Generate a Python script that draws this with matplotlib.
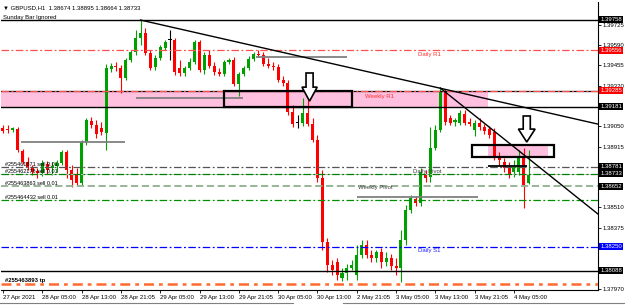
import matplotlib
matplotlib.use('Agg')
import matplotlib.pyplot as plt
from matplotlib.patches import Rectangle, Polygon
from matplotlib.lines import Line2D
import matplotlib.transforms as mtransforms

plt.rcParams['font.family'] = ['Liberation Sans', 'DejaVu Sans']

# ---------------- data (GBPUSD H1) ----------------
opens = [1.39038, 1.39031, 1.39025, 1.39031, 1.38885, 1.38812, 1.38778, 1.38752, 1.38739, 1.38798,
         1.38772, 1.38785, 1.38805, 1.38878, 1.38759, 1.38725, 1.38672, 1.38945, 1.39084, 1.39058,
         1.39038, 1.39005, 1.39430, 1.39450, 1.39437, 1.39370, 1.39490, 1.39543, 1.39636, 1.39670,
         1.39537, 1.39443, 1.39503, 1.39570, 1.39623, 1.39623, 1.39437, 1.39404, 1.39437, 1.39477,
         1.39610, 1.39424, 1.39523, 1.39450, 1.39410, 1.39397, 1.39477, 1.39490, 1.39330, 1.39397,
         1.39437, 1.39497, 1.39530, 1.39523, 1.39463, 1.39450, 1.39443, 1.39357, 1.39337, 1.39144,
         1.39071, 1.39071, 1.39138, 1.39064, 1.38958, 1.38705, 1.38280, 1.38127, 1.38147, 1.38040,
         1.38074, 1.38107, 1.38060, 1.38193, 1.38260, 1.38193, 1.38173, 1.38213, 1.38147, 1.38173,
         1.38120, 1.38107, 1.38293, 1.38493, 1.38566, 1.38539, 1.38732, 1.38712, 1.38905, 1.39025,
         1.39277, 1.39104, 1.39078, 1.39071, 1.39131, 1.39078, 1.39025, 1.39071, 1.39044, 1.39031,
         1.39011, 1.38845, 1.38812, 1.38772, 1.38745, 1.38745, 1.38845, 1.38674]
highs = [1.39058, 1.39058, 1.39044, 1.39044, 1.38898, 1.38845, 1.38792, 1.38772, 1.38825, 1.38818,
         1.38812, 1.38825, 1.38892, 1.38892, 1.38792, 1.38772, 1.38958, 1.39104, 1.39111, 1.39091,
         1.39078, 1.39463, 1.39470, 1.39477, 1.39457, 1.39503, 1.39557, 1.39690, 1.39756, 1.39703,
         1.39557, 1.39523, 1.39590, 1.39623, 1.39690, 1.39636, 1.39490, 1.39450, 1.39503, 1.39623,
         1.39623, 1.39543, 1.39557, 1.39477, 1.39437, 1.39490, 1.39503, 1.39510, 1.39410, 1.39450,
         1.39517, 1.39543, 1.39557, 1.39543, 1.39503, 1.39477, 1.39463, 1.39384, 1.39357, 1.39191,
         1.39124, 1.39237, 1.39224, 1.39104, 1.38991, 1.38759, 1.38306, 1.38160, 1.38173, 1.38107,
         1.38133, 1.38160, 1.38260, 1.38293, 1.38293, 1.38227, 1.38227, 1.38240, 1.38213, 1.38200,
         1.38173, 1.38360, 1.38526, 1.38592, 1.38585, 1.38772, 1.38759, 1.39044, 1.39058, 1.39304,
         1.39297, 1.39124, 1.39104, 1.39158, 1.39158, 1.39104, 1.39091, 1.39104, 1.39064, 1.39051,
         1.39038, 1.38878, 1.38838, 1.38812, 1.38825, 1.38892, 1.38905, 1.38895]
lows = [1.39005, 1.39005, 1.39011, 1.38878, 1.38798, 1.38759, 1.38725, 1.38705, 1.38719, 1.38732,
        1.38725, 1.38745, 1.38792, 1.38705, 1.38645, 1.38659, 1.38659, 1.38925, 1.39038, 1.38971,
        1.38991, 1.38892, 1.39410, 1.39417, 1.39271, 1.39357, 1.39477, 1.39523, 1.39590, 1.39523,
        1.39424, 1.39424, 1.39490, 1.39557, 1.39490, 1.39390, 1.39384, 1.39384, 1.39424, 1.39463,
        1.39410, 1.39397, 1.39437, 1.39390, 1.39384, 1.39384, 1.39463, 1.39317, 1.39251, 1.39384,
        1.39424, 1.39483, 1.39510, 1.39450, 1.39437, 1.39424, 1.39344, 1.39317, 1.39124, 1.39044,
        1.39038, 1.39051, 1.39051, 1.38945, 1.38679, 1.38227, 1.38080, 1.38060, 1.38027, 1.38020,
        1.38027, 1.38094, 1.38027, 1.38173, 1.38173, 1.38147, 1.38147, 1.38107, 1.38120, 1.38094,
        1.38060, 1.38014, 1.38260, 1.38473, 1.38519, 1.38519, 1.38679, 1.38679, 1.38892, 1.39011,
        1.39058, 1.39058, 1.39051, 1.39058, 1.39058, 1.39051, 1.38985, 1.39025, 1.38998, 1.38971,
        1.38825, 1.38792, 1.38745, 1.38705, 1.38712, 1.38725, 1.38506, 1.38664]
closes = [1.39018, 1.39025, 1.39038, 1.38892, 1.38812, 1.38778, 1.38745, 1.38739, 1.38805, 1.38759,
          1.38785, 1.38805, 1.38878, 1.38759, 1.38692, 1.38672, 1.38945, 1.39091, 1.39058, 1.38998,
          1.39011, 1.39437, 1.39450, 1.39443, 1.39370, 1.39490, 1.39543, 1.39636, 1.39670, 1.39537,
          1.39437, 1.39503, 1.39576, 1.39610, 1.39623, 1.39410, 1.39404, 1.39437, 1.39477, 1.39610,
          1.39424, 1.39523, 1.39450, 1.39410, 1.39397, 1.39477, 1.39490, 1.39330, 1.39397, 1.39437,
          1.39497, 1.39530, 1.39523, 1.39463, 1.39450, 1.39443, 1.39357, 1.39337, 1.39144, 1.39064,
          1.39071, 1.39138, 1.39064, 1.38958, 1.38705, 1.38280, 1.38127, 1.38094, 1.38060, 1.38074,
          1.38107, 1.38127, 1.38193, 1.38260, 1.38193, 1.38173, 1.38213, 1.38147, 1.38173, 1.38120,
          1.38107, 1.38293, 1.38493, 1.38572, 1.38539, 1.38745, 1.38705, 1.38905, 1.39025, 1.39277,
          1.39078, 1.39071, 1.39091, 1.39138, 1.39071, 1.39064, 1.39071, 1.39044, 1.39018, 1.38991,
          1.38838, 1.38825, 1.38772, 1.38725, 1.38778, 1.38845, 1.38659, 1.38733]

x_tick_pos = [0, 8, 16, 24, 32, 40, 48, 56, 64, 72, 80, 88, 96, 104]
x_tick_labels = ['27 Apr 2021', '28 Apr 05:00', '28 Apr 13:00', '28 Apr 21:05', '29 Apr 05:00',
                 '29 Apr 13:00', '29 Apr 21:05', '30 Apr 05:00', '30 Apr 13:00', '2 May 21:05',
                 '3 May 05:00', '3 May 13:00', '3 May 21:05', '4 May 05:00']
y_ticks = [1.39725, 1.39590, 1.39455, 1.39320, 1.39050, 1.38915, 1.38510, 1.38375, 1.37970]

# horizontal levels: (price, color, style, width)
levels = [(1.39758, '#000000', '-', 1.0),
          (1.39556, '#ff5050', (0, (6, 2, 1.5, 2)), 0.9),
          (1.39287, '#000000', '-', 0.9),
          (1.39285, '#ff5050', (0, (6, 2, 1.5, 2)), 0.9),
          (1.39181, '#000000', '-', 1.0),
          (1.38781, '#555555', (0, (6, 2, 1.5, 2)), 0.9),
          (1.38733, '#c0c0c0', '-', 0.7),
          (1.38733, '#008000', (0, (6, 2, 1.5, 2)), 0.9),
          (1.38652, '#90b090', (0, (4, 2)), 1.3),
          (1.38559, '#009000', (0, (6, 2, 1.5, 2)), 0.9),
          (1.38250, '#0000ff', (0, (6, 2, 1.5, 2)), 0.9),
          (1.38088, '#000000', '-', 1.0),
          (1.37998, '#ff6a30', (0, (4, 2, 1.5, 2)), 1.8)]

# price label boxes on the right axis: (price, background)
price_boxes = [(1.39758, '#000000'), (1.39556, '#ff0000'), (1.39285, '#ff0000'), (1.39181, '#000000'),
               (1.38781, '#000000'), (1.38733, '#000000'), (1.38652, '#000000'), (1.38250, '#0000ff'),
               (1.38088, '#000000')]

# short solid segments: (price, start bar, end bar, color)
segments = [(1.38945, 3.6, 24.9, '#808080'), (1.39237, 27.0, 48.9, '#808080'),
            (1.39510, 51.4, 70.0, '#808080'), (1.38579, 72.0, 96.7, '#808080'),
            (1.38785, 98.7, 106.7, '#000000')]

# trend lines: ((bar, price), (bar, price))
trendlines = [((28.0, 1.39756), (121.1, 1.39064)), ((89.0, 1.39304), (121.1, 1.38466))]

# zones
pink_zones = [(-1.0, 98.7, 1.39181, 1.39287), (98.7, 110.9, 1.38845, 1.38925)]
boxes = [(45.05, 71.1, 1.39178, 1.39287), (95.5, 112.2, 1.38845, 1.38925)]

# down arrows: (centre bar, top price, shaft bottom price, tip price, shaft half width, head half width)
arrows = [(62.4, 1.39404, 1.39310, 1.39217, 0.72, 1.55), (106.6, 1.39118, 1.39031, 1.38945, 0.72, 1.7)]

# chart labels: (bar, price, text, color)
chart_texts = [(84.5, 1.39525, 'Daily R1', '#ff3030'), (73.7, 1.39250, 'Weekly R1', '#ff3030'),
               (83.5, 1.38750, 'Daily Pivot', '#404040'), (72.3, 1.38640, 'Weekly Pivot', '#404040'),
               (84.5, 1.38222, 'Daily S1', '#2020ff')]
order_texts = [(0.5, 1.38781, '#255461871 sell 0.01'), (0.5, 1.38733, '#255462178 sell 0.01'),
               (0.5, 1.38652, '#255463863 sell 0.01'), (0.5, 1.38559, '#255464432 sell 0.01')]
tp_text = (0.5, 1.38010, '#255463893 tp')

# ---------------- figure ----------------
W, H = 625, 306
fig = plt.figure(figsize=(W / 100, H / 100), dpi=100)
ax = fig.add_axes([0.5 / W, (H - 290) / H, 597.5 / W, 288 / H])
ax.set_xlim(-0.5, 121.1)
ax.set_ylim(1.37961, 1.39876)

for z in pink_zones:
    ax.add_patch(Rectangle((z[0], z[2]), z[1] - z[0], z[3] - z[2], fc='#ffc0e0', ec='none', zorder=0.5))

n = len(opens)
bw = 0.62
for i in range(n):
    o, h, l, c = opens[i], highs[i], lows[i], closes[i]
    if abs(c - o) < 0.000015:
        col = '#000000'
    elif c > o:
        col = '#00a000'
    else:
        col = '#ff0000'
    ax.vlines(i, l, h, color=col, lw=0.8, zorder=2)
    bottom = min(o, c)
    height = max(abs(c - o), 0.00005)
    ax.add_patch(Rectangle((i - bw / 2, bottom), bw, height, fc=col, ec='none', zorder=2.1))

for p, col, ls, lw in levels:
    ax.axhline(p, color=col, ls=ls, lw=lw, zorder=3)

for p, x0, x1, col in segments:
    ax.hlines(p, x0, x1, color=col, lw=1.3, zorder=3)

for (x0, y0), (x1, y1) in trendlines:
    ax.plot([x0, x1], [y0, y1], color='black', lw=1.0, zorder=3.2)

for x0, x1, y0, y1 in boxes:
    ax.add_patch(Rectangle((x0, y0), x1 - x0, y1 - y0, fc='none', ec='black', lw=1.6, zorder=3.3))

for cx, top, sb, tip, sw, hw in arrows:
    verts = [(cx - sw, top), (cx + sw, top), (cx + sw, sb), (cx + hw, sb), (cx, tip),
             (cx - hw, sb), (cx - sw, sb)]
    ax.add_patch(Polygon(verts, closed=True, fc='white', ec='black', lw=1.2, zorder=3.5))

for x, y, t, col in chart_texts:
    ax.text(x, y, t, color=col, fontsize=4.3, ha='left', va='center', zorder=4)
for x, y, t in order_texts:
    ax.text(x, y, t, color='black', fontsize=4.0, ha='left', va='bottom', zorder=4)
ax.text(tp_text[0], tp_text[1], tp_text[2], color='black', fontsize=4.2, fontweight='bold',
        ha='left', va='bottom', zorder=4)

# axes styling
for s in ['top', 'left']:
    ax.spines[s].set_visible(False)
ax.spines['right'].set_color('black')
ax.spines['bottom'].set_color('black')
ax.spines['right'].set_linewidth(0.8)
ax.spines['bottom'].set_linewidth(0.8)
ax.yaxis.tick_right()
ax.set_yticks(y_ticks)
ax.set_yticklabels([f'{v:.5f}' for v in y_ticks])
ax.tick_params(axis='y', direction='out', length=2, width=0.6, labelsize=4.3, pad=1.5)
ax.set_xticks(x_tick_pos)
ax.set_xticklabels(x_tick_labels)
ax.tick_params(axis='x', direction='out', length=2, width=0.6, labelsize=4.3, pad=1.5)
for lbl in ax.get_xticklabels():
    lbl.set_ha('left')

trans = mtransforms.blended_transform_factory(ax.transAxes, ax.transData)
for p, col in price_boxes:
    ax.text(1.004, p, f'{p:.5f}', transform=trans, color='white', fontsize=4.3, ha='left', va='center',
            zorder=10, clip_on=False,
            bbox=dict(boxstyle='square,pad=0.18', fc=col, ec='none'))

fig.text(3 / W, 1 - 8 / H, '\u25bc GBPUSD,H1  1.38674 1.38895 1.38664 1.38733', fontsize=4.3,
         color='black', va='center', ha='left')
fig.text(3 / W, 1 - 17 / H, 'Sunday Bar Ignored', fontsize=4.3, color='black', va='center', ha='left')

# window tab-bar edge below the chart
fig.add_artist(Line2D([0, 293 / W], [1 - 302.5 / H, 1 - 302.5 / H], color='#808080', lw=0.8))
fig.add_artist(Line2D([343 / W, 1], [1 - 302.5 / H, 1 - 302.5 / H], color='#808080', lw=0.8))

fig.savefig('out.png', dpi=100)
